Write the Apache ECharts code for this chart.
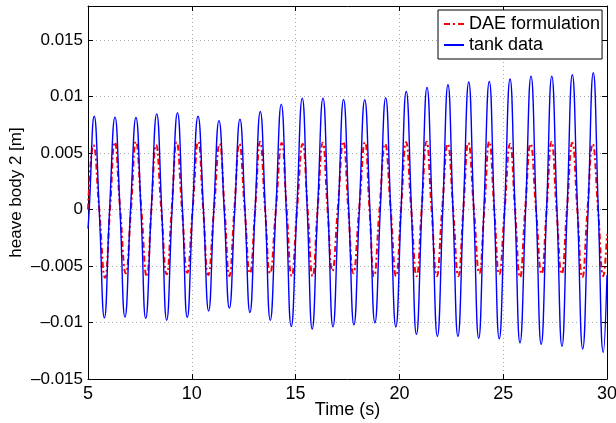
<!DOCTYPE html>
<html><head><meta charset="utf-8">
<script src="https://cdn.jsdelivr.net/npm/echarts@6/dist/echarts.min.js"></script>
<style>html,body{margin:0;padding:0;background:#fff}#c{width:616px;height:423px}</style>
</head><body><div id="c"></div>
<script>
const seriesNames = ['DAE formulation', 'tank data'];
const xTicks = [5, 10, 15, 20, 25, 30];
const yTicks = [-0.015, -0.01, -0.005, 0, 0.005, 0.01, 0.015];
const xLabel = 'Time (s)';
const yLabel = 'heave body 2 [m]';

// DAE formulation: peaks, zero crossings, troughs
const daeTime = [5.00,5.26,5.54,5.82,6.06,6.29,6.55,6.82,7.07,7.31,7.57,7.83,8.05,8.28,8.53,8.79,9.03,9.27,9.53,9.78,10.04,10.31,10.55,10.79,11.07,11.34,11.58,11.81,12.05,12.29,12.55,12.80,13.05,13.29,13.53,13.77,14.05,14.33,14.57,14.81,15.07,15.34,15.58,15.82,16.06,16.31,16.54,16.77,17.03,17.30,17.54,17.78,18.06,18.34,18.56,18.78,19.04,19.31,19.58,19.84,20.08,20.32,20.57,20.83,21.07,21.31,21.55,21.80,22.06,22.33,22.59,22.84,23.08,23.32,23.59,23.85,24.09,24.33,24.57,24.81,25.07,25.33,25.57,25.81,26.06,26.32,26.58,26.85,27.09,27.33,27.57,27.82,28.07,28.33,28.57,28.81,29.06,29.31,29.57,29.82,30.00];
const daeHeave = [0.0000,0.00570,0,-0.00604,0,0.00595,0,-0.00565,0,0.00600,0,-0.00595,0,0.00570,0,-0.00574,0,0.00595,0,-0.00560,0,0.00600,0,-0.00580,0,0.00580,0,-0.00589,0,0.00580,0,-0.00565,0,0.00600,0,-0.00565,0,0.00589,0,-0.00590,0,0.00580,0,-0.00590,0,0.00590,0,-0.00545,0,0.00600,0,-0.00565,0,0.00595,0,-0.00590,0,0.00580,0,-0.00590,0,0.00595,0,-0.00590,0,0.00600,0,-0.00590,0,0.00580,0,-0.00590,0,0.00589,0,-0.00565,0,0.00600,0,-0.00574,0,0.00580,0,-0.00600,0,0.00580,0,-0.00570,0,0.00600,0,-0.00570,0,0.00590,0,-0.00600,0,0.00580,0,-0.00590,-0.0022];

// tank data: peaks, zero crossings, troughs
const tankTime = [5.00,5.06,5.30,5.54,5.79,6.04,6.30,6.54,6.78,7.05,7.31,7.55,7.78,8.05,8.31,8.55,8.79,9.05,9.31,9.55,9.78,10.04,10.30,10.56,10.81,11.06,11.31,11.56,11.81,12.07,12.32,12.56,12.80,13.05,13.30,13.54,13.78,14.05,14.31,14.55,14.79,15.06,15.32,15.56,15.80,16.06,16.32,16.56,16.80,17.06,17.31,17.56,17.81,18.07,18.33,18.58,18.82,19.08,19.34,19.58,19.83,20.08,20.33,20.58,20.82,21.08,21.33,21.58,21.83,22.09,22.34,22.58,22.82,23.08,23.34,23.58,23.82,24.07,24.33,24.57,24.81,25.07,25.33,25.57,25.81,26.08,26.34,26.59,26.83,27.09,27.34,27.59,27.83,28.08,28.33,28.58,28.83,29.09,29.34,29.58,29.82,30.00];
const tankHeave = [-0.0017,0,0.00825,0,-0.00959,0,0.00817,0,-0.00953,0,0.00813,0,-0.00965,0,0.00846,0,-0.00980,0,0.00855,0,-0.00956,0,0.00825,0,-0.00898,0,0.00786,0,-0.00873,0,0.00799,0,-0.00912,0,0.00866,0,-0.00980,0,0.00932,0,-0.01036,0,0.00985,0,-0.01057,0,0.00985,0,-0.01039,0,0.00973,0,-0.01021,0,0.00970,0,-0.01003,0,0.00988,0,-0.01039,0,0.01044,0,-0.01105,0,0.01080,0,-0.01122,0,0.01103,0,-0.01122,0,0.01127,0,-0.01140,0,0.01133,0,-0.01145,0,0.01154,0,-0.01180,0,0.01180,0,-0.01193,0,0.01180,0,-0.01210,0,0.01192,0,-0.01234,0,0.01210,0,-0.01264,-0.0058];

const zip = (a, b) => a.map((t, i) => [t, b[i]]);
const FONT = 'Liberation Sans, Arial, Helvetica, sans-serif';
const fmtY = v => {
  const r = yTicks.find(t => Math.abs(t - v) < 1e-9);
  if (r === undefined) return '';
  const s = String(Math.round(r * 1000) / 1000);
  return s.replace('-', '\u2013');
};

const chart = echarts.init(document.getElementById('c'), null, {renderer: 'canvas'});
const axisLine = {show: true, onZero: false, lineStyle: {color: '#000', width: 1}};
const tick = {show: true, inside: true, length: 5, lineStyle: {color: '#000', width: 1}};
const grid = {show: true, lineStyle: {color: '#a8a8a8', width: 1, type: [1, 3]}};
chart.setOption({
  animation: false,
  backgroundColor: '#fff',
  textStyle: {fontFamily: FONT},
  grid: {left: 88, right: 9, top: 6, bottom: 44, containLabel: false, outerBoundsMode: 'none'},
  legend: {
    orient: 'vertical', left: 438, top: 10,
    backgroundColor: '#fff', borderColor: '#000', borderWidth: 1, borderRadius: 0,
    padding: [5, 2, 5, 5], itemWidth: 20, itemHeight: 14, itemGap: 3,
    itemStyle: {color: 'transparent', borderWidth: 0, opacity: 0},
    textStyle: {fontSize: 18, lineHeight: 17, color: '#000', fontFamily: FONT},
    data: seriesNames
  },
  xAxis: [{
    type: 'value', min: xTicks[0], max: xTicks[xTicks.length - 1], interval: 5,
    position: 'bottom',
    name: xLabel, nameLocation: 'middle', nameGap: 22, nameMoveOverlap: false,
    nameTextStyle: {fontSize: 18, color: '#000', fontFamily: FONT},
    axisLine, axisTick: tick, splitLine: grid,
    axisLabel: {fontSize: 18, color: '#000', margin: 6, fontFamily: FONT}
  }, {
    type: 'value', min: xTicks[0], max: xTicks[xTicks.length - 1], interval: 5,
    position: 'top', axisLine, axisTick: tick, splitLine: {show: false}, axisLabel: {show: false}
  }],
  yAxis: [{
    type: 'value', min: -0.015, max: 0.018, interval: 0.005,
    position: 'left',
    name: yLabel, nameLocation: 'middle', nameGap: 63, nameMoveOverlap: false,
    nameTextStyle: {fontSize: 17, color: '#000', fontFamily: FONT},
    axisLine, axisTick: tick, splitLine: grid,
    axisLabel: {fontSize: 17, color: '#000', margin: 5, fontFamily: FONT, formatter: fmtY, showMaxLabel: false}
  }, {
    type: 'value', min: -0.015, max: 0.018, interval: 0.005,
    position: 'right', axisLine, axisTick: tick, splitLine: {show: false}, axisLabel: {show: false}
  }],
  series: [{
    name: seriesNames[0], type: 'line', xAxisIndex: 0, yAxisIndex: 0,
    data: zip(daeTime, daeHeave), smooth: 0.5, symbol: 'none', z: 2,
    lineStyle: {color: '#ff0000', width: 2, type: [6, 3, 2, 3]},
    itemStyle: {color: '#ff0000'}
  }, {
    name: seriesNames[1], type: 'line', xAxisIndex: 0, yAxisIndex: 0,
    data: zip(tankTime, tankHeave), smooth: 0.5, symbol: 'none', z: 3,
    lineStyle: {color: '#0000ff', width: 1.4, type: 'solid'},
    itemStyle: {color: '#0000ff'}
  }]
});
</script>
</body></html>
